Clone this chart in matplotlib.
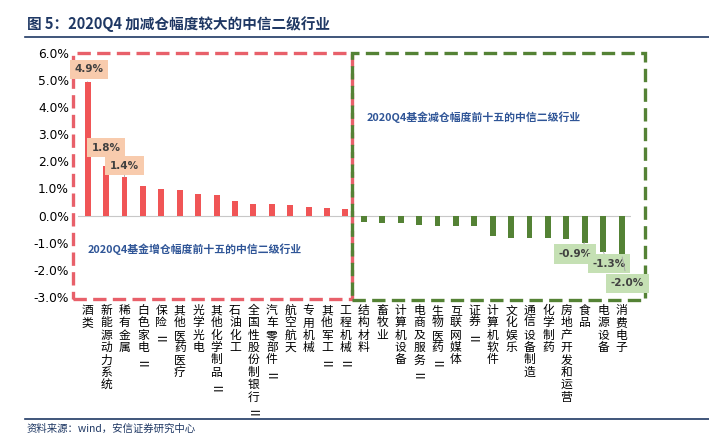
import matplotlib.pyplot as plt
from matplotlib.patches import Rectangle
from matplotlib.lines import Line2D

plt.rcParams['font.family'] = ['Noto Sans CJK SC', 'DejaVu Sans']

# increased positions (top 15)
pos_names = ['酒类', '新能源动力系统', '稀有金属', '白色家电Ⅱ', '保险Ⅱ', '其他医药医疗', '光学光电',
             '其他化学制品Ⅱ', '石油化工', '全国性股份制银行Ⅱ', '汽车零部件Ⅱ', '航空航天', '专用机械',
             '其他军工Ⅱ', '工程机械Ⅱ']
pos_vals = [4.93, 1.82, 1.42, 1.08, 0.99, 0.95, 0.81, 0.76, 0.54, 0.43, 0.43, 0.39, 0.33, 0.27, 0.26]

# decreased positions (top 15)
neg_names = ['结构材料', '畜牧业', '计算机设备', '电商及服务Ⅱ', '生物医药Ⅱ', '互联网媒体', '证券Ⅱ',
             '计算机软件', '文化娱乐', '通信设备制造', '化学制药', '房地产开发和运营', '食品', '电源设备',
             '消费电子']
neg_vals = [-0.25, -0.27, -0.27, -0.33, -0.37, -0.37, -0.40, -0.74, -0.81, -0.81, -0.81, -0.87, -1.00,
            -1.33, -1.42]

# data labels shown on the chart: bar index -> text
pos_labels = {0: '4.9%', 1: '1.8%', 2: '1.4%'}
neg_labels = {12: '-0.9%', 13: '-1.3%', 14: '-2.0%'}

y_ticks = [-3, -2, -1, 0, 1, 2, 3, 4, 5, 6]

RED = '#F05556'
GREEN = '#548235'
NAVY = '#1F3864'

fig = plt.figure(figsize=(7.09, 4.44), dpi=100)
ax = fig.add_axes([0.1107, 0.331, 0.779, 0.5503])

n_pos = len(pos_vals)
n_neg = len(neg_vals)
names = pos_names + neg_names
xs_pos = list(range(n_pos))
xs_neg = list(range(n_pos, n_pos + n_neg))

ax.bar(xs_pos, pos_vals, width=0.32, color=RED, zorder=3)
ax.bar(xs_neg, neg_vals, width=0.32, color=GREEN, zorder=3)
ax.axhline(0, color='#C8C8C8', lw=0.8, zorder=2)

ax.set_xlim(-0.5, n_pos + n_neg - 0.5)
ax.set_ylim(min(y_ticks), max(y_ticks))
ax.set_yticks(y_ticks)
ax.set_yticklabels(['%.1f%%' % t for t in y_ticks], family='DejaVu Sans', fontsize=8.8)
ax.tick_params(axis='y', length=0, pad=7)
ax.set_xticks([])
for s in ax.spines.values():
    s.set_visible(False)

# category labels, one character per line
step = 8.9
for i, name in enumerate(names):
    for k, ch in enumerate(name):
        ax.annotate(ch, xy=(i, 0), xycoords=('data', 'axes fraction'),
                    xytext=(0, -9.7 - k * step), textcoords='offset points',
                    ha='center', va='center', fontsize=8.5,
                    rotation=90 if ch == 'Ⅱ' else 0, annotation_clip=False)

# dashed boxes around the two groups
ax.add_patch(Rectangle((-0.8, -3.07), n_pos - 0.62 + 0.8, 9.07, fill=False, ec='#E8606A',
                       lw=2.4, ls=(0, (4, 1.9)), clip_on=False, zorder=4))
ax.add_patch(Rectangle((n_pos - 0.62, -3.1), n_neg + 0.9, 9.1, fill=False, ec=GREEN,
                       lw=2.4, ls=(0, (4, 1.9)), clip_on=False, zorder=4))

ax.text(0.0, -1.23, '2020Q4基金增仓幅度前十五的中信二级行业', color='#2F5597',
        fontsize=7.8, fontweight='bold', va='center', ha='left')
ax.text(n_pos + 0.15, 3.63, '2020Q4基金减仓幅度前十五的中信二级行业', color='#2F5597',
        fontsize=7.8, fontweight='bold', va='center', ha='left')

# value labels
pos_off = {0: (1, 9), 1: (0, 13.3), 2: (0, 8.3)}
neg_off = {12: (-7.2, -8), 13: (4.3, -8.6), 14: (4.3, -21)}
for i, txt in pos_labels.items():
    ax.annotate(txt, xy=(xs_pos[i], pos_vals[i]), xytext=pos_off[i], textcoords='offset points',
                ha='center', va='center', fontsize=7.5, fontweight='bold', color='#404040',
                family='DejaVu Sans',
                bbox=dict(boxstyle='square,pad=0.45', fc='#F8CBAD', ec='none'),
                arrowprops=dict(arrowstyle='-', color='#A6A6A6', lw=0.6), zorder=5)
for i, txt in neg_labels.items():
    ax.annotate(txt, xy=(xs_neg[i], neg_vals[i]), xytext=neg_off[i], textcoords='offset points',
                ha='center', va='center', fontsize=7.5, fontweight='bold', color='#404040',
                family='DejaVu Sans',
                bbox=dict(boxstyle='square,pad=0.45', fc='#C5E0B4', ec='none'),
                arrowprops=dict(arrowstyle='-', color='#A6A6A6', lw=0.6), zorder=5)

# title, rules and source
fig.text(27 / 709, 1 - 24 / 444, '图 5：2020Q4 加减仓幅度较大的中信二级行业', fontsize=10.5,
         fontweight='bold', color=NAVY, va='center', ha='left')
fig.add_artist(Line2D([25 / 709, 1], [1 - 37 / 444] * 2, color=NAVY, lw=1.2))
fig.add_artist(Line2D([25 / 709, 1], [1 - 419 / 444] * 2, color=NAVY, lw=1.2))
fig.text(27 / 709, 1 - 429 / 444, '资料来源：wind，安信证券研究中心', fontsize=7.5,
         style='italic', color=NAVY, va='center', ha='left')

fig.savefig('out.png', dpi=100)
